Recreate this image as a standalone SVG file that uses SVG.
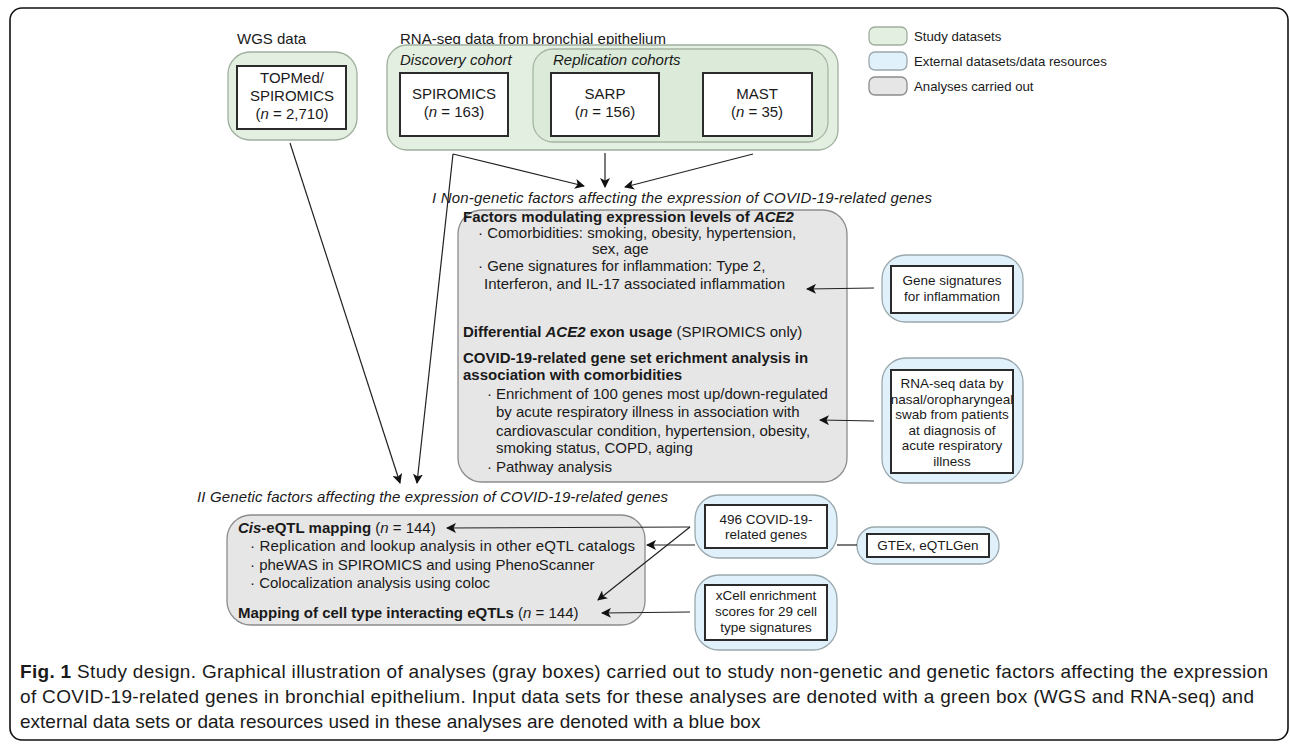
<svg xmlns="http://www.w3.org/2000/svg" width="1290" height="749" viewBox="0 0 1290 749">
<style>
text{font-family:"Liberation Sans",Arial,sans-serif;fill:#1a1a1a}
.t15{font-size:15px}
.t13{font-size:13.5px}
.lg{font-size:13.2px}
.it{font-style:italic}
.b{font-weight:bold}
.mid{text-anchor:middle}
.green{fill:#e3efe1;stroke:#9fae9d;stroke-width:1.3}
.blue{fill:#e0f1fb;stroke:#9aa8ad;stroke-width:1.3}
.gray{fill:#e6e6e6;stroke:#8c8c8c;stroke-width:1.3}
.inner{fill:#fff;stroke:#2b2b2b;stroke-width:2}
.con{fill:none;stroke:#222;stroke-width:1.2}
.cap{font-size:19px}
</style>
<defs>
<marker id="ah" viewBox="0 0 10 10" refX="9" refY="5" markerWidth="10" markerHeight="10" markerUnits="userSpaceOnUse" orient="auto">
<path d="M0,0 L10,5 L0,10 L2.5,5 Z" fill="#111"/>
</marker>
</defs>
<rect x="10" y="8" width="1278" height="732" rx="12" fill="#fff" stroke="#111" stroke-width="1.6"/>

<!-- Legend -->
<g id="legend">
<rect x="869" y="27" width="38" height="18" rx="6" class="green"/>
<text x="914" y="41" class="lg">Study datasets</text>
<rect x="869" y="52" width="38" height="18" rx="6" class="blue"/>
<text x="914" y="66" class="lg">External datasets/data resources</text>
<rect x="869" y="77" width="38" height="18" rx="6" class="gray"/>
<text x="914" y="91" class="lg">Analyses carried out</text>
</g>

<!-- WGS -->
<g id="wgs">
<text x="237" y="44" class="t15">WGS data</text>
<rect x="228" y="52" width="129" height="88" rx="22" class="green"/>
<rect x="237" y="66" width="109" height="63" class="inner"/>
<text x="292" y="83" class="t15 mid">TOPMed/</text>
<text x="292" y="101" class="t15 mid">SPIROMICS</text>
<text x="292" y="119" class="t15 mid">(<tspan class="it">n</tspan> = 2,710)</text>
</g>

<!-- RNA-seq -->
<g id="rnaseq">
<text x="400" y="44" class="t15">RNA-seq data from bronchial epithelium</text>
<rect x="387" y="45" width="451" height="105" rx="20" class="green"/>
<text x="400" y="65" class="t15 it">Discovery cohort</text>
<rect x="533" y="49" width="295" height="93" rx="20" fill="#dcebd9" stroke="#a6b7a3" stroke-width="1.3"/>
<text x="553" y="65" class="t15 it">Replication cohorts</text>
</g>
<g id="spiromics">
<rect x="400" y="73" width="108" height="63" class="inner"/>
<text x="454" y="99" class="t15 mid">SPIROMICS</text>
<text x="454" y="117" class="t15 mid">(<tspan class="it">n</tspan> = 163)</text>
</g>
<g id="sarp">
<rect x="551" y="73" width="108" height="63" class="inner"/>
<text x="605" y="99" class="t15 mid">SARP</text>
<text x="605" y="117" class="t15 mid">(<tspan class="it">n</tspan> = 156)</text>
</g>
<g id="mast">
<rect x="703" y="73" width="109" height="63" class="inner"/>
<text x="757" y="99" class="t15 mid">MAST</text>
<text x="757" y="117" class="t15 mid">(<tspan class="it">n</tspan> = 35)</text>
</g>

<!-- Section I -->
<g id="analysis1">
<text x="432" y="203" class="t15 it" textLength="500">I Non-genetic factors affecting the expression of COVID-19-related genes</text>
<rect x="458" y="210" width="389" height="272" rx="24" class="gray"/>
<text x="463" y="222" class="t15 b">Factors modulating expression levels of <tspan class="it">ACE2</tspan></text>
<text x="478" y="238" class="t15">· Comorbidities: smoking, obesity, hypertension,</text>
<text x="592" y="254" class="t15">sex, age</text>
<text x="478" y="271" class="t15">· Gene signatures for inflammation: Type 2,</text>
<text x="484" y="289" class="t15">Interferon, and IL-17 associated inflammation</text>
<text x="463" y="337" class="t15"><tspan class="b">Differential <tspan class="it">ACE2</tspan> exon usage</tspan> (SPIROMICS only)</text>
<text x="463" y="363" class="t15 b">COVID-19-related gene set erichment analysis in</text>
<text x="463" y="380" class="t15 b">association with comorbidities</text>
<text x="487" y="399" class="t15">·</text>
<text x="496" y="399" class="t15">Enrichment of 100 genes most up/down-regulated</text>
<text x="496" y="417" class="t15">by acute respiratory illness in association with</text>
<text x="496" y="436" class="t15">cardiovascular condition, hypertension, obesity,</text>
<text x="496" y="453" class="t15">smoking status, COPD, aging</text>
<text x="487" y="472" class="t15">·</text>
<text x="496" y="472" class="t15">Pathway analysis</text>
</g>

<g id="genesig">
<rect x="882" y="255" width="141" height="67" rx="24" class="blue"/>
<rect x="891" y="266" width="122" height="47" class="inner"/>
<text x="952" y="285" class="t13 mid">Gene signatures</text>
<text x="952" y="301" class="t13 mid">for inflammation</text>
</g>

<g id="rnanasal">
<rect x="882" y="358" width="141" height="125" rx="24" class="blue"/>
<rect x="891" y="370" width="122" height="103" class="inner"/>
<text x="952" y="388" class="t13 mid">RNA-seq data by</text>
<text x="952" y="404" class="t13 mid">nasal/oropharyngeal</text>
<text x="952" y="419" class="t13 mid">swab from patients</text>
<text x="952" y="435" class="t13 mid">at diagnosis of</text>
<text x="952" y="450" class="t13 mid">acute respiratory</text>
<text x="952" y="466" class="t13 mid">illness</text>
</g>

<!-- Section II -->
<g id="analysis2">
<text x="197" y="502" class="t15 it" textLength="471">II Genetic factors affecting the expression of COVID-19-related genes</text>
<rect x="227" y="515" width="418" height="110" rx="24" class="gray"/>
<text x="238" y="533" class="t15"><tspan class="b"><tspan class="it">Cis</tspan>-eQTL mapping</tspan> (<tspan class="it">n</tspan> = 144)</text>
<text x="250" y="551" class="t15" textLength="385">· Replication and lookup analysis in other eQTL catalogs</text>
<text x="250" y="570" class="t15">· pheWAS in SPIROMICS and using PhenoScanner</text>
<text x="250" y="588" class="t15">· Colocalization analysis using coloc</text>
<text x="238" y="618" class="t15"><tspan class="b">Mapping of cell type interacting eQTLs</tspan> (<tspan class="it">n</tspan> = 144)</text>
</g>

<g id="covidgenes">
<rect x="695" y="495" width="142" height="63" rx="24" class="blue"/>
<rect x="705" y="505" width="122" height="43" class="inner"/>
<text x="766" y="524" class="t13 mid">496 COVID-19-</text>
<text x="766" y="539" class="t13 mid">related genes</text>
</g>

<g id="gtex">
<rect x="857" y="527" width="142" height="37" rx="18" class="blue"/>
<rect x="867" y="534" width="122" height="23" class="inner"/>
<text x="928" y="550" class="t13 mid">GTEx, eQTLGen</text>
</g>

<g id="xcell">
<rect x="695" y="575" width="142" height="75" rx="24" class="blue"/>
<rect x="705" y="585" width="122" height="55" class="inner"/>
<text x="766" y="600" class="t13 mid">xCell enrichment</text>
<text x="766" y="616" class="t13 mid">scores for 29 cell</text>
<text x="766" y="632" class="t13 mid">type signatures</text>
</g>

<!-- Connectors -->
<g id="connectors" class="con">
<line x1="453" y1="154" x2="584" y2="186" marker-end="url(#ah)"/>
<line x1="605" y1="153" x2="605" y2="187" marker-end="url(#ah)"/>
<line x1="753" y1="154" x2="625" y2="187" marker-end="url(#ah)"/>
<line x1="453" y1="154" x2="417" y2="483" marker-end="url(#ah)"/>
<line x1="290" y1="143" x2="400" y2="483" marker-end="url(#ah)"/>
<line x1="874" y1="288" x2="807" y2="289" marker-end="url(#ah)"/>
<line x1="874" y1="421" x2="820" y2="420" marker-end="url(#ah)"/>
<line x1="690" y1="527" x2="447" y2="528" marker-end="url(#ah)"/>
<line x1="690" y1="527" x2="598" y2="600" marker-end="url(#ah)"/>
<line x1="695" y1="545" x2="647" y2="545" marker-end="url(#ah)"/>
<line x1="837" y1="545" x2="857" y2="545"/>
<line x1="690" y1="612" x2="602" y2="613" marker-end="url(#ah)"/>
</g>

<!-- Caption -->
<g id="caption">
<text x="20" y="678" class="cap" textLength="1248"><tspan class="b">Fig. 1</tspan> Study design. Graphical illustration of analyses (gray boxes) carried out to study non-genetic and genetic factors affecting the expression</text>
<text x="20" y="703" class="cap" textLength="1234">of COVID-19-related genes in bronchial epithelium. Input data sets for these analyses are denoted with a green box (WGS and RNA-seq) and</text>
<text x="20" y="728" class="cap">external data sets or data resources used in these analyses are denoted with a blue box</text>
</g>
</svg>
